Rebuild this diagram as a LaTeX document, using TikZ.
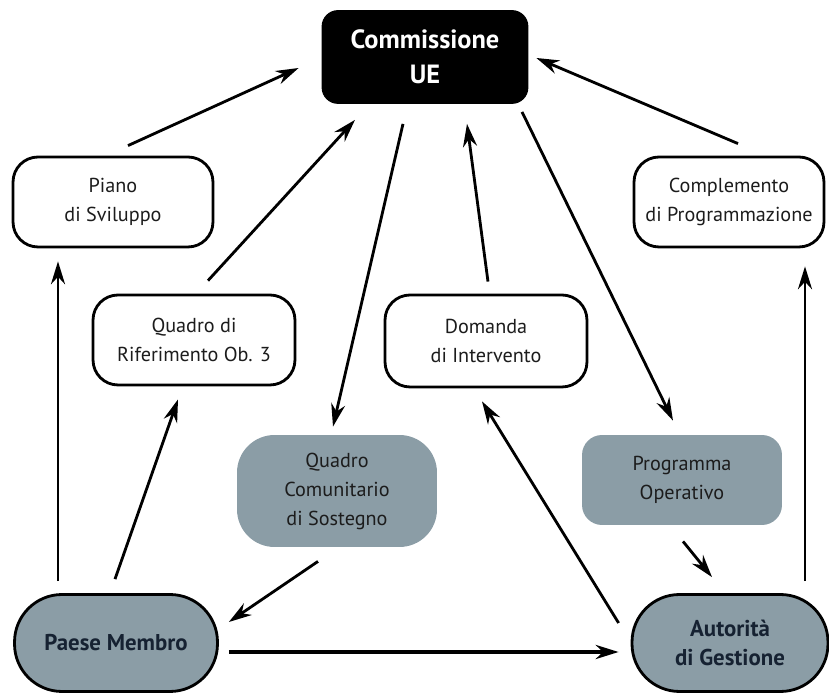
\documentclass[tikz,border=0pt]{standalone}
\usepackage{fontspec}
\setmainfont{PT Sans}
\usetikzlibrary{arrows.meta}

\definecolor{panel}{RGB}{139,157,166}
\definecolor{ink}{RGB}{28,28,28}
\definecolor{navy}{RGB}{22,34,50}
\newcommand{\lbl}{\fontsize{11.5}{16.5}\selectfont}

\begin{document}
\begin{tikzpicture}[x=0.02cm, y=-0.02cm, line width=1.6pt, >={Stealth[length=13pt,width=8pt]},
  plainbox/.style={draw, rounded corners=0.5cm, minimum width=4cm, minimum height=1.8cm,
    inner sep=0pt, align=center, font=\lbl, text=ink},
  greybox/.style={fill=panel, rounded corners=0.4cm, minimum width=4cm, minimum height=1.8cm,
    inner sep=0pt, align=center, font=\lbl, text=ink},
  roundbox/.style={draw, fill=panel, rounded corners=0.95cm, minimum width=4.06cm,
    minimum height=1.94cm, inner sep=0pt, align=center,
    font=\fontsize{13}{17}\selectfont\bfseries, text=navy}]
  \useasboundingbox (0,0) rectangle (829,695);

  % boxes
  \node[draw, fill=black, text=white, rounded corners=0.3cm, minimum width=4.08cm,
    minimum height=1.82cm, align=center, font=\fontsize{15}{20}\selectfont\bfseries]
    (cue) at (425,57) {Commissione\\UE};
  \node[plainbox] (piano) at (113,202) {Piano\\di Sviluppo};
  \node[plainbox, minimum width=3.8cm] (compl) at (729,202) {Complemento\\di Programmazione};
  \node[plainbox, minimum width=4.04cm] (qrif) at (194,340) {Quadro di\\Riferimento Ob. 3};
  \node[plainbox, minimum width=4.04cm, minimum height=1.84cm] (dom) at (486,341) {Domanda\\di Intervento};
  \node[greybox, rounded corners=0.75cm, minimum height=2.24cm] (qcs) at (337,491) {Quadro\\Comunitario\\di Sostegno};
  \node[greybox] (po) at (682,480) {Programma\\Operativo};
  \node[roundbox] (paese) at (116,643) {Paese Membro};
  \node[roundbox, minimum width=3.92cm] (aut) at (730,643) {Autorità\\di Gestione};

  % links
  \draw[->] ([shift={(15,-10)}]piano.north) -- ([shift={(-23,11)}]cue.west);
  \draw[->] ([shift={(9,-12)}]compl.north) -- ([shift={(8,1)}]cue.east);
  \draw[->] ([shift={(14,-13)}]qrif.north) -- ([shift={(-70,16)}]cue.south);
  \draw[->] ([shift={(-22,20)}]cue.south) -- ([shift={(-4,-7)}]qcs.north);
  \draw[->] ([shift={(2,-12)}]dom.north) -- ([shift={(42,20)}]cue.south);
  \draw[->] ([shift={(97,8)}]cue.south) -- ([shift={(-9,-13)}]po.north);
  \draw[->] ([shift={(-58,-12)}]paese.north) -- ([shift={(-55,13)}]piano.south);
  \draw[->] ([shift={(-1,-14)}]paese.north) -- ([shift={(-16,13)}]qrif.south);
  \draw[->] ([shift={(-19,13)}]qcs.south) -- ([shift={(10,-21)}]paese.east);
  \draw[->, line width=2.2pt] ([shift={(10,9)}]paese.east) -- ([shift={(-12,9)}]aut.west);
  \draw[->] ([shift={(-12,-20)}]aut.west) -- ([shift={(-4,13)}]dom.south);
  \draw[->] ([shift={(1,15)}]po.south) -- ([shift={(-18,-16)}]aut.north);
  \draw[->] ([shift={(75,-12)}]aut.north) -- ([shift={(76,18)}]compl.south);
\end{tikzpicture}
\end{document}
